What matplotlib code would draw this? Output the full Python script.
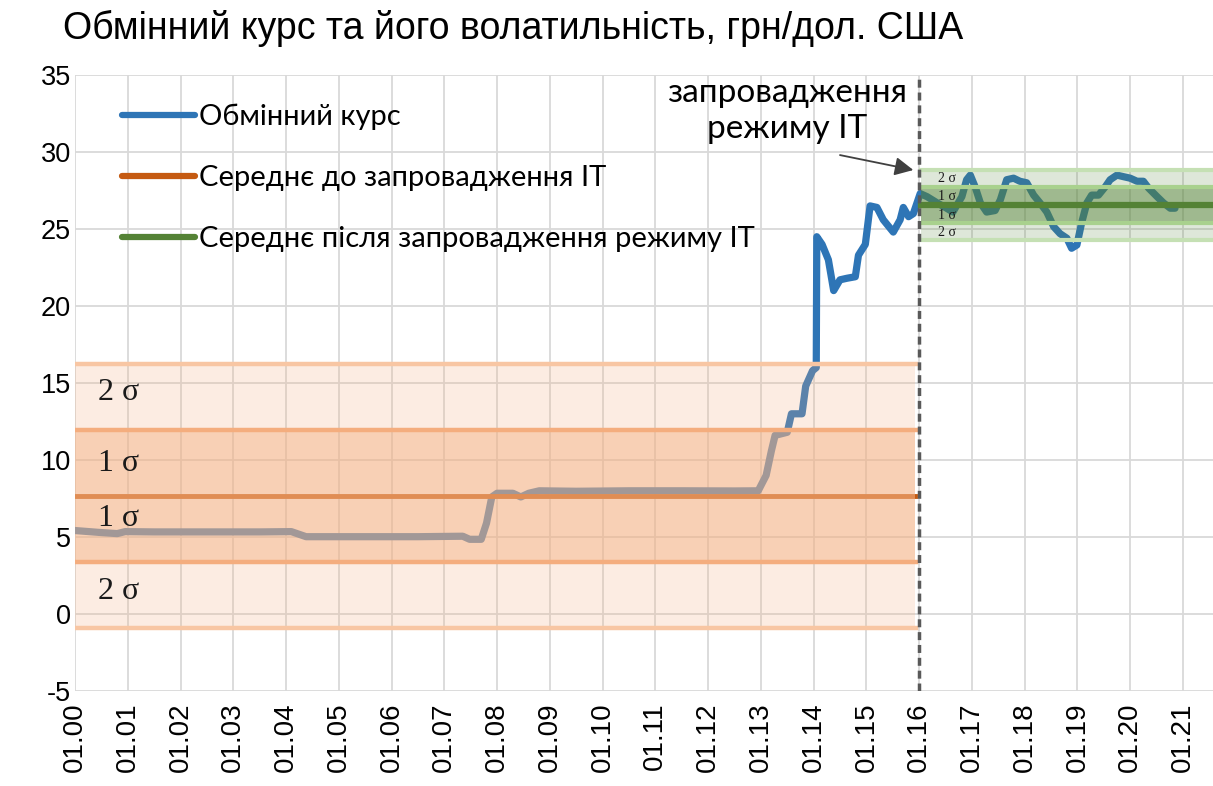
import matplotlib
matplotlib.use('Agg')
import matplotlib.pyplot as plt
from matplotlib.lines import Line2D

# ---------------- data ----------------
title = "Обмінний курс та його волатильність, грн/дол. США"

years = [2000.00, 2000.45, 2000.80, 2000.95, 2001.5, 2002.5, 2003.5, 2004.10, 2004.38,
         2005.5, 2006.5, 2007.35, 2007.48, 2007.70, 2007.80, 2007.90, 2008.00, 2008.30,
         2008.45, 2008.60, 2008.80, 2009.5, 2010.5, 2011.5, 2012.5, 2012.95, 2013.10,
         2013.20, 2013.27, 2013.50, 2013.58, 2013.78, 2013.85, 2013.98, 2014.05, 2014.06,
         2014.16, 2014.28, 2014.38, 2014.50, 2014.63, 2014.79, 2014.85, 2014.98, 2015.07,
         2015.20, 2015.32, 2015.51, 2015.64, 2015.70, 2015.80, 2015.89, 2016.02, 2016.15,
         2016.34, 2016.52, 2016.64, 2016.81, 2016.90, 2016.97, 2017.06, 2017.16, 2017.28,
         2017.44, 2017.54, 2017.66, 2017.79, 2017.91, 2018.04, 2018.17, 2018.29, 2018.42,
         2018.55, 2018.67, 2018.80, 2018.89, 2018.99, 2019.08, 2019.18, 2019.27, 2019.40,
         2019.53, 2019.62, 2019.75, 2019.87, 2020.00, 2020.13, 2020.25, 2020.35, 2020.51,
         2020.63, 2020.76, 2020.85]

rate = [5.42, 5.30, 5.22, 5.35, 5.33, 5.33, 5.33, 5.35, 5.02,
        5.02, 5.02, 5.05, 4.85, 4.85, 5.9, 7.6, 7.84, 7.84,
        7.6, 7.84, 8.0, 7.97, 8.0, 8.0, 7.99, 8.0, 9.0,
        10.6, 11.6, 11.8, 13.0, 13.0, 14.8, 15.8, 16.0, 24.5,
        24.0, 23.0, 21.0, 21.7, 21.8, 21.9, 23.3, 24.0, 26.5,
        26.4, 25.6, 24.8, 25.6, 26.4, 25.8, 26.0, 27.3, 27.1,
        26.7, 26.35, 26.1, 27.1, 28.2, 28.5, 27.75, 26.7, 26.1,
        26.2, 26.9, 28.2, 28.3, 28.1, 28.0, 27.2, 26.7, 26.1,
        25.15, 24.7, 24.4, 23.75, 23.96, 25.4, 26.7, 27.2, 27.2,
        27.75, 28.2, 28.5, 28.4, 28.3, 28.1, 28.1, 27.65, 27.1,
        26.7, 26.35, 26.35]

tick_years = list(range(2000, 2022))
tick_labels = ['01.%02d' % (y - 2000) for y in tick_years]
ytick_vals = [-5, 0, 5, 10, 15, 20, 25, 30, 35]
ytick_labels = ['-5', '0', '5', '10', '15', '20', '25', '30', '35']

it_start = 2016.0
x_min, x_max = 2000.0, 2021.57
mean_before, sd_before = 7.66, 4.3
mean_after, sd_after = 26.56, 1.15

legend_labels = ["Обмінний курс",
                 "Середнє до запровадження IT",
                 "Середнє після запровадження режиму IT"]
annot_lines = ["запровадження", "режиму IT"]

# ---------------- figure ----------------
W, H = 1213, 786
fig = plt.figure(figsize=(W / 100, H / 100), dpi=100)
ax = fig.add_axes([75 / W, (H - 691) / H, (W - 75) / W, 616 / H])
ax.set_xlim(x_min, x_max)
ax.set_ylim(-5, 35)

ax.set_xticks(tick_years)
ax.set_xticklabels(tick_labels, rotation=90, fontsize=20, family='Liberation Sans')
ax.set_yticks(ytick_vals)
ax.set_yticklabels(ytick_labels, fontsize=19.5, family='Liberation Sans')
ax.tick_params(length=0)
ax.tick_params(axis='x', pad=8)
ax.tick_params(axis='y', pad=3)
ax.grid(True, color='#D9D9D9', lw=1.3)
ax.set_axisbelow(True)
for s in ax.spines.values():
    s.set_visible(False)

blue = '#2E75B6'
orange_dark = '#C55A11'
peach = '#F4B183'
green = '#548235'

# exchange rate line (under the bands)
ax.plot(years, rate, color=blue, lw=5.2, solid_joinstyle='round',
        solid_capstyle='round', zorder=2)
# mean before
ax.plot([x_min, it_start - 0.08], [mean_before] * 2, color=orange_dark, lw=3.5, zorder=2)

# orange bands
xb = [x_min, it_start - 0.08]
ax.fill_between(xb, mean_before - 2 * sd_before, mean_before + 2 * sd_before,
                color=peach, alpha=0.23, lw=0, zorder=3)
ax.fill_between(xb, mean_before - sd_before, mean_before + sd_before,
                color=peach, alpha=0.47, lw=0, zorder=3)
for k, c in [(2, '#F8C6A3'), (1, '#F4AD7E')]:
    for sgn in (-1, 1):
        ax.plot([x_min, it_start - 0.05], [mean_before + sgn * k * sd_before] * 2,
                color=c, lw=3.2, zorder=4)

# green bands
xg = [it_start + 0.03, x_max]
ax.fill_between(xg, mean_after - 2 * sd_after, mean_after + 2 * sd_after,
                color=green, alpha=0.19, lw=0, zorder=3)
ax.fill_between(xg, mean_after - sd_after, mean_after + sd_after,
                color=green, alpha=0.45, lw=0, zorder=3)
for k, c in [(2, '#C5E0B4'), (1, '#A9D18E')]:
    for sgn in (-1, 1):
        ax.plot(xg, [mean_after + sgn * k * sd_after] * 2, color=c, lw=3.0, zorder=4)
ax.plot(xg, [mean_after] * 2, color=green, lw=4.5, zorder=5)

# sigma labels
for yv, lab in [(14.4, '2 σ'), (9.8, '1 σ'), (6.2, '1 σ'), (1.45, '2 σ')]:
    ax.text(2000.82, yv, lab, fontsize=23, family='Liberation Serif',
            ha='center', va='center', color='#1a1a1a', zorder=6)
for yv, lab in [(28.3, '2 σ'), (27.1, '1 σ'), (25.9, '1 σ'), (24.8, '2 σ')]:
    ax.text(2016.53, yv, lab, fontsize=10, family='Liberation Serif',
            ha='center', va='center', color='#1a1a1a', zorder=6)

# vertical dashed line
ax.axvline(it_start, color='#595959', lw=2.5, ls=(0, (2.3, 1.4)), zorder=7)

# annotation
ax.text(2013.5, 33.85, annot_lines[0], fontsize=24, family=['Lato', 'DejaVu Sans'],
        ha='center', va='center', zorder=6)
ax.text(2013.5, 31.5, annot_lines[1], fontsize=24, family=['Lato', 'DejaVu Sans'],
        ha='center', va='center', zorder=6)
ax.annotate('', xy=(2015.89, 28.83), xytext=(2014.5, 29.8),
            arrowprops=dict(arrowstyle='-|>', color='#404040', lw=1.3,
                            mutation_scale=28, shrinkA=0, shrinkB=0), zorder=6)

# legend
handles = [Line2D([], [], color=blue, lw=4.5, solid_capstyle='round'),
           Line2D([], [], color=orange_dark, lw=4.5, solid_capstyle='round'),
           Line2D([], [], color=green, lw=4.5, solid_capstyle='round')]
leg = ax.legend(handles, legend_labels, loc='upper left',
                bbox_to_anchor=((122 - 75) / 1138, (691 - 104) / 616),
                frameon=False, borderpad=0, borderaxespad=0,
                handlelength=2.5, handletextpad=0.15, labelspacing=1.2,
                prop={'family': ['Lato', 'DejaVu Sans'], 'size': 21})
leg.set_zorder(8)

# title
fig.text(63 / W, 1 - 28 / H, title, fontsize=27, family='Liberation Sans',
         ha='left', va='center')

fig.savefig('out.png', dpi=100)
